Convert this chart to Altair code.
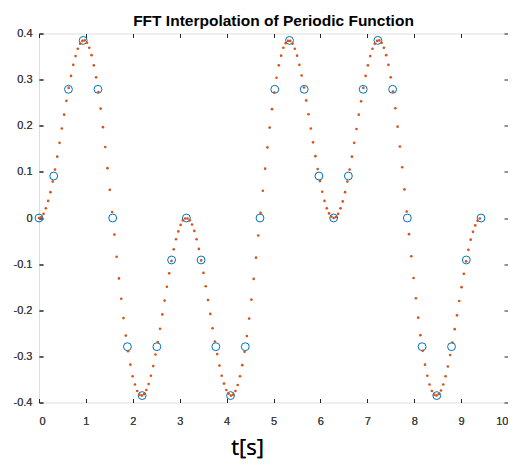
import altair as alt
import pandas as pd

# Original samples (blue circles)
sample_t = [0.000, 0.314, 0.628, 0.942, 1.257, 1.571, 1.885, 2.199, 2.513, 2.827,
            3.142, 3.456, 3.770, 4.084, 4.398, 4.712, 5.027, 5.341, 5.655, 5.969,
            6.283, 6.597, 6.912, 7.226, 7.540, 7.854, 8.168, 8.482, 8.796, 9.111, 9.425]
sample_y = [0.000, 0.091, 0.279, 0.385, 0.279, 0.000, -0.279, -0.385, -0.279, -0.091,
            0.000, -0.091, -0.279, -0.385, -0.279, 0.000, 0.279, 0.385, 0.279, 0.091,
            0.000, 0.091, 0.279, 0.385, 0.279, 0.000, -0.279, -0.385, -0.279, -0.091, 0.000]

# FFT-interpolated points (orange dots), spacing
interp_dt = 0.0487
interp_y = [
    0.000, 0.002, 0.009, 0.021, 0.037, 0.056, 0.079, 0.105, 0.133, 0.163,
    0.194, 0.224, 0.254, 0.282, 0.308, 0.332, 0.351, 0.367, 0.378, 0.384,
    0.385, 0.380, 0.369, 0.353, 0.331, 0.305, 0.273, 0.237, 0.197, 0.154,
    0.108, 0.061, 0.013, -0.036, -0.084, -0.131, -0.175, -0.217, -0.255, -0.289,
    -0.318, -0.343, -0.361, -0.375, -0.383, -0.385, -0.382, -0.373, -0.360, -0.342,
    -0.321, -0.296, -0.269, -0.240, -0.209, -0.179, -0.149, -0.120, -0.093, -0.068,
    -0.046, -0.029, -0.015, -0.005, -0.001,
    -0.001, -0.005, -0.014, -0.028, -0.046,
    -0.067, -0.092, -0.119, -0.148, -0.178, -0.208, -0.239, -0.268, -0.295, -0.320,
    -0.342, -0.359, -0.373, -0.381, -0.385, -0.383, -0.375, -0.362, -0.343, -0.319,
    -0.290, -0.256, -0.218, -0.177, -0.132, -0.086, -0.038, 0.011, 0.059, 0.107,
    0.153, 0.196, 0.236, 0.272, 0.304, 0.331, 0.352, 0.369, 0.379, 0.384,
    0.384, 0.378, 0.367, 0.352, 0.332, 0.309, 0.283, 0.255, 0.225, 0.194,
    0.164, 0.134, 0.106, 0.080, 0.057, 0.037, 0.021, 0.010, 0.003, 0.000,
    0.002, 0.009, 0.021, 0.036, 0.056, 0.079, 0.105, 0.133, 0.163, 0.193,
    0.224, 0.253, 0.282, 0.308, 0.331, 0.351, 0.367, 0.378, 0.384, 0.385,
    0.380, 0.369, 0.353, 0.332, 0.305, 0.274, 0.238, 0.198, 0.155, 0.110,
    0.062, 0.014, -0.035, -0.083, -0.130, -0.174, -0.216, -0.254, -0.288, -0.318,
    -0.342, -0.361, -0.375, -0.383, -0.385, -0.382, -0.374, -0.361, -0.343, -0.322,
    -0.297, -0.270, -0.241, -0.211, -0.180, -0.150, -0.121, -0.094, -0.069, -0.047,
    -0.030, -0.016, -0.006, -0.001,
]

x_ticks = [0, 1, 2, 3, 4, 5, 6, 7, 8, 9, 10]
y_ticks = [-0.4, -0.3, -0.2, -0.1, 0, 0.1, 0.2, 0.3, 0.4]

samples = pd.DataFrame({"t": sample_t, "y": sample_y})
interp = pd.DataFrame({"t": [round(i * interp_dt, 5) for i in range(len(interp_y))],
                       "y": interp_y})

AX = "#262626"
LBL = "#404040"
xscale = alt.Scale(domain=[0, 10], nice=False, zero=False)
yscale = alt.Scale(domain=[-0.4, 0.4], nice=False, zero=False)

tick_common = dict(domain=False, grid=False, ticks=True, tickSize=4, tickColor=AX,
                   tickWidth=1, offset=-4, labelFont="Liberation Sans",
                   labelFontSize=11, labelColor=LBL)

x_axis = alt.Axis(orient="bottom", values=x_ticks, labelExpr="toString(datum.value)",
                  labelPadding=13, title="t[s]", titleFont="Open Sans",
                  titleFontSize=22, titleFontWeight="normal", titleColor="#000000",
                  titleX=208, titleY=56, titleAlign="center",
                  titleBaseline="alphabetic", **tick_common)
y_axis = alt.Axis(orient="left", values=y_ticks, labelExpr="toString(datum.value)",
                  labelPadding=7, title="", titleX=5, titleY=5, **tick_common)

x_axis_top = alt.Axis(orient="top", values=x_ticks, labels=False, title="",
                      titleX=5, titleY=5, **tick_common)
y_axis_right = alt.Axis(orient="right", values=y_ticks, labels=False, title="",
                        titleX=-5, titleY=5, **tick_common)

circles = alt.Chart(samples).mark_point(
    shape="circle", filled=False, color="#0072BD", size=62, strokeWidth=1, opacity=1
).encode(
    x=alt.X("t:Q", scale=xscale, axis=x_axis),
    y=alt.Y("y:Q", scale=yscale, axis=y_axis),
)

dots = alt.Chart(interp).mark_circle(color="#D95319", size=7, opacity=1).encode(
    x=alt.X("t:Q", scale=xscale, axis=x_axis),
    y=alt.Y("y:Q", scale=yscale, axis=y_axis),
)

frame = alt.Chart(samples).mark_point(opacity=0).encode(
    x=alt.X("t:Q", scale=xscale, axis=x_axis_top),
    y=alt.Y("y:Q", scale=yscale, axis=y_axis_right),
)

chart = alt.layer(circles, dots, frame).resolve_axis(
    x="independent", y="independent"
).properties(
    width=469,
    height=369,
    autosize="none",
    padding={"left": 31, "top": 25.5, "right": 0, "bottom": 59.5},
    title=alt.TitleParams(
        text="FFT Interpolation of Periodic Function",
        font="Liberation Sans", fontSize=15.5, fontWeight="bold",
        color="#000000", anchor="middle", offset=8, baseline="alphabetic",
        frame="group", dy=22,
    ),
).configure_view(
    stroke=AX, strokeWidth=1
).configure(background="white")

chart.save("out.html", embed_options={"renderer": "svg", "actions": False})
